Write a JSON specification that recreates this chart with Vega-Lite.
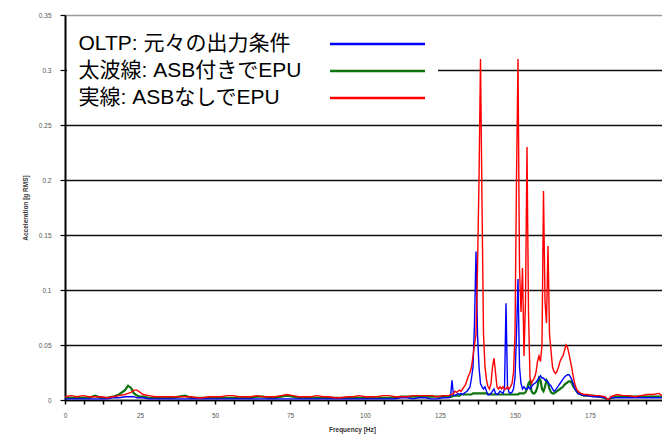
{
  "$schema": "https://vega.github.io/schema/vega-lite/v6.json",
  "width": 597,
  "height": 385,
  "autosize": {"type": "none"},
  "padding": {"left": 65, "top": 15, "right": 0, "bottom": 40},
  "background": "white",
  "config": {
    "view": {"stroke": null},
    "font": "Liberation Sans"
  },
  "data": {
    "values": [
      {"f":0,"b":0.001,"g":0.002,"r":0.003},{"f":2,"b":0.001,"g":0.002,"r":0.004},{"f":4,"b":0.001,"g":0.002,"r":0.003},
      {"f":6,"b":0.001,"g":0.002,"r":0.004},{"f":8,"b":0.001,"g":0.002,"r":0.003},{"f":10,"b":0.001,"g":0.004,"r":0.003},
      {"f":12,"b":0.001,"g":0.002,"r":0.003},{"f":14,"b":0.001,"g":0.002,"r":0.002},{"f":16,"b":0.002,"g":0.003,"r":0.003},
      {"f":18,"b":0.002,"g":0.005,"r":0.004},{"f":20,"b":0.003,"g":0.009,"r":0.005},{"f":21,"b":0.003,"g":0.013,"r":0.006},
      {"f":22,"b":0.003,"g":0.011,"r":0.007},{"f":23,"b":0.003,"g":0.006,"r":0.009},{"f":24,"b":0.002,"g":0.004,"r":0.009},
      {"f":25,"b":0.002,"g":0.003,"r":0.007},{"f":26,"b":0.002,"g":0.003,"r":0.005},{"f":28,"b":0.001,"g":0.002,"r":0.004},
      {"f":30,"b":0.001,"g":0.002,"r":0.003},{"f":32,"b":0.001,"g":0.002,"r":0.003},{"f":34,"b":0.001,"g":0.002,"r":0.003},
      {"f":36,"b":0.001,"g":0.002,"r":0.003},{"f":38,"b":0.001,"g":0.003,"r":0.003},{"f":40,"b":0.001,"g":0.004,"r":0.003},
      {"f":42,"b":0.001,"g":0.002,"r":0.003},{"f":44,"b":0.001,"g":0.002,"r":0.002},{"f":46,"b":0.001,"g":0.002,"r":0.002},
      {"f":48,"b":0.001,"g":0.002,"r":0.003},{"f":50,"b":0.001,"g":0.002,"r":0.003},{"f":52,"b":0.001,"g":0.002,"r":0.003},
      {"f":54,"b":0.001,"g":0.002,"r":0.004},{"f":56,"b":0.001,"g":0.002,"r":0.004},{"f":58,"b":0.001,"g":0.002,"r":0.003},
      {"f":60,"b":0.001,"g":0.002,"r":0.003},{"f":62,"b":0.001,"g":0.002,"r":0.003},{"f":64,"b":0.001,"g":0.003,"r":0.004},
      {"f":66,"b":0.001,"g":0.003,"r":0.003},{"f":68,"b":0.001,"g":0.002,"r":0.003},{"f":70,"b":0.001,"g":0.002,"r":0.003},
      {"f":72,"b":0.001,"g":0.003,"r":0.004},{"f":74,"b":0.001,"g":0.004,"r":0.005},{"f":76,"b":0.001,"g":0.003,"r":0.004},
      {"f":78,"b":0.001,"g":0.002,"r":0.003},{"f":80,"b":0.001,"g":0.002,"r":0.003},{"f":82,"b":0.001,"g":0.002,"r":0.003},
      {"f":84,"b":0.001,"g":0.002,"r":0.004},{"f":86,"b":0.001,"g":0.002,"r":0.003},{"f":88,"b":0.001,"g":0.002,"r":0.003},
      {"f":90,"b":0.001,"g":0.002,"r":0.002},{"f":92,"b":0.001,"g":0.002,"r":0.002},{"f":94,"b":0.001,"g":0.002,"r":0.003},
      {"f":96,"b":0.001,"g":0.002,"r":0.003},{"f":98,"b":0.001,"g":0.002,"r":0.004},{"f":100,"b":0.001,"g":0.002,"r":0.003},
      {"f":102,"b":0.001,"g":0.002,"r":0.003},{"f":104,"b":0.001,"g":0.002,"r":0.003},{"f":106,"b":0.001,"g":0.002,"r":0.004},
      {"f":108,"b":0.001,"g":0.002,"r":0.004},{"f":110,"b":0.001,"g":0.002,"r":0.003},{"f":112,"b":0.002,"g":0.003,"r":0.003},
      {"f":114,"b":0.002,"g":0.003,"r":0.003},{"f":116,"b":0.001,"g":0.003,"r":0.004},{"f":118,"b":0.002,"g":0.003,"r":0.004},
      {"f":120,"b":0.002,"g":0.003,"r":0.004},{"f":122,"b":0.001,"g":0.003,"r":0.004},{"f":124,"b":0.001,"g":0.003,"r":0.003},
      {"f":126,"b":0.002,"g":0.003,"r":0.004},{"f":127,"b":0.002,"g":0.003,"r":0.004},{"f":128,"b":0.002,"g":0.003,"r":0.004},
      {"f":128.5,"b":0.003,"g":0.003,"r":0.005},{"f":129,"b":0.018,"g":0.003,"r":0.005},{"f":129.5,"b":0.004,"g":0.004,"r":0.006},
      {"f":130,"b":0.004,"g":0.004,"r":0.008},{"f":130.5,"b":0.005,"g":0.004,"r":0.007},{"f":131,"b":0.006,"g":0.004,"r":0.008},
      {"f":131.5,"b":0.005,"g":0.004,"r":0.009},{"f":132,"b":0.006,"g":0.005,"r":0.008},{"f":132.5,"b":0.005,"g":0.005,"r":0.010},
      {"f":133,"b":0.006,"g":0.005,"r":0.012},{"f":133.5,"b":0.007,"g":0.005,"r":0.014},{"f":134,"b":0.008,"g":0.005,"r":0.018},
      {"f":134.5,"b":0.010,"g":0.005,"r":0.022},{"f":135,"b":0.012,"g":0.005,"r":0.025},{"f":135.5,"b":0.020,"g":0.005,"r":0.030},
      {"f":136,"b":0.030,"g":0.006,"r":0.040},{"f":136.5,"b":0.070,"g":0.006,"r":0.050},{"f":137,"b":0.135,"g":0.006,"r":0.060},
      {"f":137.5,"b":0.060,"g":0.006,"r":0.120},{"f":138,"b":0.030,"g":0.006,"r":0.200},{"f":138.5,"b":0.015,"g":0.006,"r":0.310},
      {"f":139,"b":0.012,"g":0.006,"r":0.180},{"f":139.5,"b":0.010,"g":0.006,"r":0.060},{"f":140,"b":0.012,"g":0.006,"r":0.030},
      {"f":140.5,"b":0.008,"g":0.006,"r":0.018},{"f":141,"b":0.005,"g":0.005,"r":0.012},{"f":141.5,"b":0.005,"g":0.005,"r":0.010},
      {"f":142,"b":0.006,"g":0.005,"r":0.015},{"f":142.5,"b":0.008,"g":0.005,"r":0.030},{"f":143,"b":0.010,"g":0.005,"r":0.038},
      {"f":143.5,"b":0.006,"g":0.005,"r":0.025},{"f":144,"b":0.005,"g":0.005,"r":0.012},{"f":144.5,"b":0.006,"g":0.005,"r":0.010},
      {"f":145,"b":0.008,"g":0.005,"r":0.012},{"f":145.5,"b":0.007,"g":0.005,"r":0.010},{"f":146,"b":0.006,"g":0.005,"r":0.012},
      {"f":146.5,"b":0.010,"g":0.005,"r":0.010},{"f":147,"b":0.088,"g":0.005,"r":0.010},{"f":147.5,"b":0.012,"g":0.005,"r":0.012},
      {"f":148,"b":0.007,"g":0.005,"r":0.010},{"f":148.5,"b":0.006,"g":0.005,"r":0.012},{"f":149,"b":0.007,"g":0.005,"r":0.015},
      {"f":149.5,"b":0.010,"g":0.005,"r":0.025},{"f":150,"b":0.020,"g":0.005,"r":0.060},{"f":150.5,"b":0.060,"g":0.005,"r":0.200},
      {"f":151,"b":0.110,"g":0.005,"r":0.310},{"f":151.5,"b":0.030,"g":0.006,"r":0.120},{"f":152,"b":0.015,"g":0.006,"r":0.080},
      {"f":152.5,"b":0.010,"g":0.006,"r":0.120},{"f":153,"b":0.012,"g":0.006,"r":0.040},{"f":153.5,"b":0.010,"g":0.007,"r":0.090},
      {"f":154,"b":0.010,"g":0.010,"r":0.230},{"f":154.5,"b":0.012,"g":0.015,"r":0.080},{"f":155,"b":0.010,"g":0.017,"r":0.020},
      {"f":155.5,"b":0.012,"g":0.008,"r":0.015},{"f":156,"b":0.014,"g":0.006,"r":0.018},{"f":156.5,"b":0.015,"g":0.006,"r":0.020},
      {"f":157,"b":0.016,"g":0.008,"r":0.025},{"f":157.5,"b":0.018,"g":0.012,"r":0.035},{"f":158,"b":0.020,"g":0.020,"r":0.040},
      {"f":158.5,"b":0.022,"g":0.018,"r":0.035},{"f":159,"b":0.020,"g":0.010,"r":0.050},{"f":159.5,"b":0.020,"g":0.008,"r":0.190},
      {"f":160,"b":0.018,"g":0.012,"r":0.090},{"f":160.5,"b":0.018,"g":0.018,"r":0.070},{"f":161,"b":0.016,"g":0.016,"r":0.140},
      {"f":161.5,"b":0.014,"g":0.010,"r":0.060},{"f":162,"b":0.013,"g":0.007,"r":0.045},{"f":162.5,"b":0.010,"g":0.006,"r":0.030},
      {"f":163,"b":0.008,"g":0.006,"r":0.026},{"f":163.5,"b":0.009,"g":0.007,"r":0.024},{"f":164,"b":0.011,"g":0.008,"r":0.026},
      {"f":164.5,"b":0.013,"g":0.009,"r":0.030},{"f":165,"b":0.015,"g":0.010,"r":0.035},{"f":165.5,"b":0.017,"g":0.011,"r":0.038},
      {"f":166,"b":0.019,"g":0.012,"r":0.040},{"f":166.5,"b":0.021,"g":0.014,"r":0.045},{"f":167,"b":0.022,"g":0.015,"r":0.050},
      {"f":167.5,"b":0.023,"g":0.016,"r":0.048},{"f":168,"b":0.023,"g":0.017,"r":0.042},{"f":168.5,"b":0.021,"g":0.017,"r":0.035},
      {"f":169,"b":0.018,"g":0.015,"r":0.028},{"f":169.5,"b":0.014,"g":0.012,"r":0.020},{"f":170,"b":0.010,"g":0.010,"r":0.014},
      {"f":170.5,"b":0.008,"g":0.008,"r":0.010},{"f":171,"b":0.006,"g":0.006,"r":0.008},{"f":172,"b":0.005,"g":0.005,"r":0.006},
      {"f":173,"b":0.004,"g":0.004,"r":0.005},{"f":174,"b":0.004,"g":0.004,"r":0.005},{"f":176,"b":0.003,"g":0.004,"r":0.004},
      {"f":178,"b":0.003,"g":0.003,"r":0.004},{"f":180,"b":0.002,"g":0.002,"r":0.003},{"f":181,"b":0.000,"g":0.000,"r":0.000},
      {"f":182,"b":0.002,"g":0.002,"r":0.003},{"f":184,"b":0.002,"g":0.003,"r":0.005},{"f":186,"b":0.002,"g":0.003,"r":0.004},
      {"f":188,"b":0.002,"g":0.003,"r":0.004},{"f":190,"b":0.002,"g":0.003,"r":0.003},{"f":192,"b":0.002,"g":0.003,"r":0.004},
      {"f":194,"b":0.002,"g":0.003,"r":0.005},{"f":196,"b":0.002,"g":0.003,"r":0.005},{"f":198,"b":0.002,"g":0.003,"r":0.006},
      {"f":199,"b":0.002,"g":0.003,"r":0.004}
    ]
  },
  "transform": [{"fold": ["b", "g", "r"], "as": ["s", "v"]}],
  "encoding": {
    "x": {
      "field": "f", "type": "quantitative",
      "scale": {"domain": [0, 199], "nice": false, "zero": false},
      "axis": {
        "title": "Frequency [Hz]",
        "titleX": 287,
        "values": [0,6.25,12.5,18.75,25,31.25,37.5,43.75,50,56.25,62.5,68.75,75,81.25,87.5,93.75,100,106.25,112.5,118.75,125,131.25,137.5,143.75,150,156.25,162.5,168.75,175,181.25,187.5,193.75],
        "labelExpr": "datum.value % 25 === 0 ? datum.label : ''",
        "grid": false,
        "domainColor": "#000", "domainWidth": 1.5,
        "tickColor": "#000", "tickSize": 4, "tickWidth": 1.5,
        "labelFontSize": 6.5, "labelColor": "#555", "labelPadding": 8,
        "labelFlush": false, "labelOverlap": false,
        "titleFontSize": 6.5, "titleFontWeight": "bold", "titleColor": "#333", "titlePadding": 8
      }
    },
    "y": {
      "field": "v", "type": "quantitative",
      "scale": {"domain": [0, 0.35], "nice": false},
      "axis": {
        "title": "Acceleration [g RMS]",
        "values": [0, 0.05, 0.1, 0.15, 0.2, 0.25, 0.3, 0.35],
        "format": "~g",
        "grid": true,
        "gridColor": {"condition": {"test": "datum.value > 0.34", "value": "#999999"}, "value": "#111111"},
        "gridWidth": 1.6,
        "gridOpacity": 1,
        "domainColor": "#000", "domainWidth": 2,
        "tickColor": "#000", "tickSize": 5, "tickWidth": 1.2,
        "labelFontSize": 6.5, "labelColor": "#555", "labelPadding": 9,
        "titleFontSize": 6.5, "titleFontWeight": "bold", "titleColor": "#333", "titlePadding": 10
      }
    },
    "color": {
      "field": "s", "type": "nominal",
      "scale": {"domain": ["b", "g", "r"], "range": ["#0000ff", "#0d730d", "#ff0000"]},
      "legend": {
        "title": null,
        "orient": "none",
        "legendX": 2,
        "legendY": 10,
        "padding": 8,
        "fillColor": "white",
        "strokeColor": null,
        "symbolType": "M-5,0H5",
        "symbolSize": 361,
        "symbolStrokeWidth": 2.5,
        "symbolOffset": 291.5,
        "labelOffset": -310,
        "labelFont": "Liberation Sans, Noto Sans CJK JP",
        "labelFontSize": 21,
        "labelColor": "#000",
        "labelLimit": 500,
        "rowPadding": 6,
        "labelExpr": "datum.value == 'b' ? 'OLTP: 元々の出力条件' : datum.value == 'g' ? '太波線: ASB付きでEPU' : '実線: ASBなしでEPU'"
      }
    }
  },
  "layer": [
    {
      "transform": [{"filter": "datum.s == 'g'"}],
      "mark": {"type": "line", "strokeWidth": 2.2, "clip": true}
    },
    {
      "transform": [{"filter": "datum.s != 'g'"}],
      "mark": {"type": "line", "strokeWidth": 1.4, "clip": true}
    }
  ]
}
